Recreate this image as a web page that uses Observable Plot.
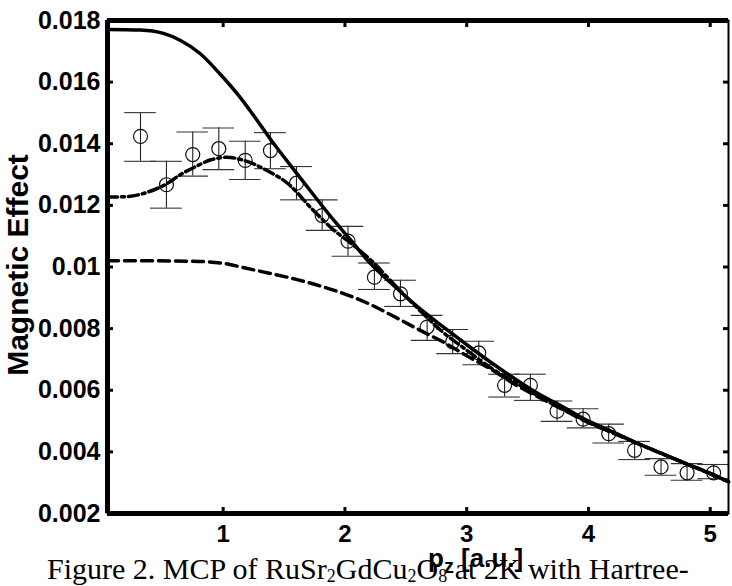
<!DOCTYPE html>
<html><head><meta charset="utf-8">
<script src="https://cdn.jsdelivr.net/npm/d3@7"></script>
<script src="https://cdn.jsdelivr.net/npm/@observablehq/plot@0.6"></script>
<style>
body{margin:0;background:#fff;}
#wrap{position:relative;width:732px;height:586px;overflow:hidden;background:#fff;}
#chart{position:absolute;left:0;top:0;}
#caption{position:absolute;left:47px;top:554px;font-family:"Liberation Serif","Times New Roman",serif;font-size:30px;line-height:30px;white-space:nowrap;color:#000;}
#caption sub{font-size:18px;vertical-align:-3px;line-height:0;}
#xlab{position:absolute;left:428px;top:545px;font-family:"Liberation Sans",Arial,sans-serif;font-weight:bold;font-size:26px;line-height:26px;white-space:nowrap;color:#000;}
#xlab sub{font-size:20px;vertical-align:-6px;line-height:0;}
#ylab{position:absolute;left:3px;top:265px;transform-origin:0 0;transform:rotate(-90deg) translate(-50%,0);font-family:"Liberation Sans",Arial,sans-serif;font-weight:bold;font-size:30px;line-height:30px;white-space:nowrap;color:#000;}
</style></head><body>
<div id="wrap">
<div id="caption">Figure 2. MCP of RuSr<sub>2</sub>GdCu<sub>2</sub>O<sub>8</sub> at 2K with Hartree-</div>
<div id="chart"></div>
<div id="xlab">p<sub>z</sub> [a.u.]</div>
<div id="ylab">Magnetic Effect</div>
</div>
<script>
// axes
const xDomain = [0.05, 5.15];
const yDomain = [0.002, 0.018];
const xTicks = [1, 2, 3, 4, 5];
const xTickLabels = ["1", "2", "3", "4", "5"];
const yTicks = [0.002, 0.004, 0.006, 0.008, 0.01, 0.012, 0.014, 0.016, 0.018];
const yTickLabels = ["0.002", "0.004", "0.006", "0.008", "0.01", "0.012", "0.014", "0.016", "0.018"];

// measured points
const pz = [0.321, 0.534, 0.750, 0.964, 1.181, 1.388, 1.602, 1.813, 2.025, 2.242, 2.456, 2.675, 2.885, 3.099, 3.311, 3.523, 3.742, 3.956, 4.166, 4.379, 4.596, 4.810, 5.028];
const effect = [0.01424, 0.01267, 0.01365, 0.01384, 0.01346, 0.01378, 0.01272, 0.01167, 0.01084, 0.00967, 0.00913, 0.00805, 0.00757, 0.00721, 0.00616, 0.00616, 0.00532, 0.00506, 0.00459, 0.00405, 0.00351, 0.00332, 0.00332];
const errHigh = [0.01501, 0.01343, 0.01438, 0.01451, 0.01408, 0.01436, 0.01326, 0.01218, 0.01132, 0.01013, 0.00957, 0.00843, 0.00797, 0.00759, 0.00652, 0.00652, 0.00565, 0.00540, 0.00490, 0.00434, 0.00378, 0.00362, 0.00359];
const errLow = [0.01343, 0.01191, 0.01295, 0.01316, 0.01284, 0.01319, 0.01218, 0.01119, 0.01035, 0.00927, 0.00872, 0.00762, 0.00719, 0.00683, 0.00578, 0.00567, 0.00499, 0.00478, 0.00429, 0.00375, 0.00324, 0.00308, 0.00313];
const capHalfWidth = 0.13;

// solid curve
const solidX = [0.05, 0.32, 0.51, 0.65, 0.81, 0.98, 1.12, 1.22, 1.41, 1.63, 1.91, 2.05, 2.2, 2.4, 2.6, 2.8, 3.0, 3.2, 3.4, 3.6, 3.8, 4.0, 4.2, 4.4, 4.6, 4.8, 5.0, 5.15];
const solidY = [0.01771, 0.01769, 0.01758, 0.01735, 0.01693, 0.01624, 0.01560, 0.01508, 0.01403, 0.01291, 0.01151, 0.01086, 0.01015, 0.00940, 0.00870, 0.00808, 0.00748, 0.00690, 0.00636, 0.00586, 0.00544, 0.00500, 0.00465, 0.00428, 0.00395, 0.00362, 0.00330, 0.00303];
// dashed curve
const dashX = [0.05, 0.4, 0.8, 1.0, 1.2, 1.4, 1.6, 1.8, 2.0, 2.2, 2.4, 2.6, 2.8, 3.0, 3.2, 3.4, 3.6, 3.8, 4.0, 4.2, 4.4, 4.6, 4.8, 5.0, 5.15];
const dashY = [0.01020, 0.01020, 0.01018, 0.01012, 0.00995, 0.00978, 0.00960, 0.00938, 0.00912, 0.00880, 0.00840, 0.00798, 0.00758, 0.00712, 0.00668, 0.00618, 0.00576, 0.00535, 0.00495, 0.00462, 0.00428, 0.00395, 0.00362, 0.00330, 0.00303];
// dash-dot curve
const dotDashX = [0.05, 0.2, 0.38, 0.54, 0.65, 0.76, 0.9, 1.03, 1.17, 1.36, 1.53, 1.74, 1.91, 2.05, 2.24, 2.4, 2.6, 2.8, 3.0, 3.2, 3.4, 3.6, 3.8, 4.0, 4.4, 4.8, 5.15];
const dotDashY = [0.01227, 0.01228, 0.01243, 0.01271, 0.01300, 0.01323, 0.01348, 0.01356, 0.01346, 0.01313, 0.01271, 0.01184, 0.01119, 0.01077, 0.01012, 0.00945, 0.00865, 0.00790, 0.00730, 0.00672, 0.00625, 0.00578, 0.00537, 0.00497, 0.00428, 0.00362, 0.00303];

const pts = pz.map((x, i) => ({x, y: effect[i], hi: errHigh[i], lo: errLow[i]}));
const toXY = (xs, ys) => xs.map((x, i) => ({x, y: ys[i]}));
const tickStyle = {tickSize: 5, strokeWidth: 3, tickFormat: () => ""};

const chart = Plot.plot({
  width: 732, height: 586,
  marginLeft: 107, marginRight: 4, marginTop: 20, marginBottom: 73,
  style: {fontFamily: "'Liberation Sans', Arial, sans-serif", fontWeight: "bold", fontSize: "24px", background: "transparent", color: "#000"},
  x: {domain: xDomain, label: null},
  y: {domain: yDomain, label: null},
  marks: [
    Plot.ruleX(pts, {x: "x", y1: "lo", y2: "hi", stroke: "#222", strokeWidth: 1.1}),
    Plot.ruleY(pts, {y: "hi", x1: d => d.x - capHalfWidth, x2: d => d.x + capHalfWidth, stroke: "#333", strokeWidth: 1.1}),
    Plot.ruleY(pts, {y: "lo", x1: d => d.x - capHalfWidth, x2: d => d.x + capHalfWidth, stroke: "#333", strokeWidth: 1.1}),
    Plot.dot(pts, {x: "x", y: "y", r: 7, stroke: "#111", strokeWidth: 1.2, fill: "none"}),
    Plot.line(toXY(dashX, dashY), {x: "x", y: "y", curve: "monotone-x", stroke: "#000", strokeWidth: 3.5, strokeDasharray: "11,6"}),
    Plot.line(toXY(dotDashX, dotDashY), {x: "x", y: "y", curve: "monotone-x", stroke: "#000", strokeWidth: 3.5, strokeDasharray: "10,4,3,4"}),
    Plot.line(toXY(solidX, solidY), {x: "x", y: "y", curve: "monotone-x", stroke: "#000", strokeWidth: 3.5}),
    Plot.frame({stroke: "#000", strokeWidth: 2}),
    Plot.ruleY([yDomain[0]], {stroke: "#000", strokeWidth: 5}),
    Plot.ruleY([yDomain[1]], {stroke: "#000", strokeWidth: 5}),
    Plot.ruleX([xDomain[0]], {stroke: "#000", strokeWidth: 5}),
    // inward tick marks on all four sides
    Plot.axisX(xTicks, {anchor: "bottom", dy: -6, ...tickStyle}),
    Plot.axisX(xTicks, {anchor: "top", dy: 6, ...tickStyle}),
    Plot.axisY(yTicks, {anchor: "left", dx: 6, ...tickStyle}),
    Plot.axisY(yTicks, {anchor: "right", dx: -6, ...tickStyle}),
    // tick labels
    Plot.axisX(xTicks, {anchor: "bottom", tickSize: 0, tickPadding: 11, fontSize: 24, tickFormat: d => xTickLabels[xTicks.indexOf(d)]}),
    Plot.axisY(yTicks, {anchor: "left", tickSize: 0, tickPadding: 7, fontSize: 25, tickFormat: d => yTickLabels[yTicks.indexOf(d)]})
  ]
});
document.getElementById("chart").appendChild(chart);
</script>
</body></html>
